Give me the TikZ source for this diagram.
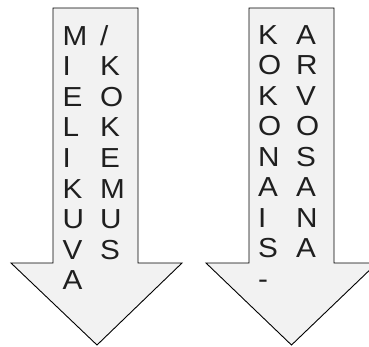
\documentclass[tikz,border=0pt]{standalone}
\usepackage{fontspec}
\setmainfont{Liberation Sans}[FakeStretch=1.08]
\begin{document}
\begin{tikzpicture}[x=1pt,y=1pt,
  arrowshape/.style={draw=black,line width=0.9pt,fill=gray!10,line join=miter},
  letter/.style={anchor=base west,inner sep=0pt,font=\fontsize{27.5}{27.5}\selectfont,text=black!88}]
\useasboundingbox (0,0) rectangle (369,-346);
\begin{scope}
\clip (0,0.5) rectangle (369,-346);
\draw[arrowshape] (53,-8) -- (138,-8) -- (138,-263) -- (182,-263) -- (97,-345) -- (11,-263) -- (53,-263) -- cycle;
\draw[arrowshape] (249,-8) -- (334,-8) -- (334,-263) -- (377,-263) -- (291.5,-345) -- (206,-263) -- (249,-263) -- cycle;
\end{scope}
\foreach \t [count=\i from 0] in {M,I,E,L,I,K,U,V,A}
  \node[letter] (la\i) at (62.5,{-45-30.6*\i}) {\t};
\foreach \t [count=\i from 0] in {/,K,O,K,E,M,U,S}
  \node[letter] (lb\i) at (100,{-45-30.6*\i}) {\t};
\foreach \t [count=\i from 0] in {K,O,K,O,N,A,I,S,-}
  \node[letter] (ra\i) at (258,{-44-30.5*\i}) {\t};
\foreach \t [count=\i from 0] in {A,R,V,O,S,A,N,A}
  \node[letter] (rb\i) at (296,{-44-30.5*\i}) {\t};
\end{tikzpicture}
\end{document}
